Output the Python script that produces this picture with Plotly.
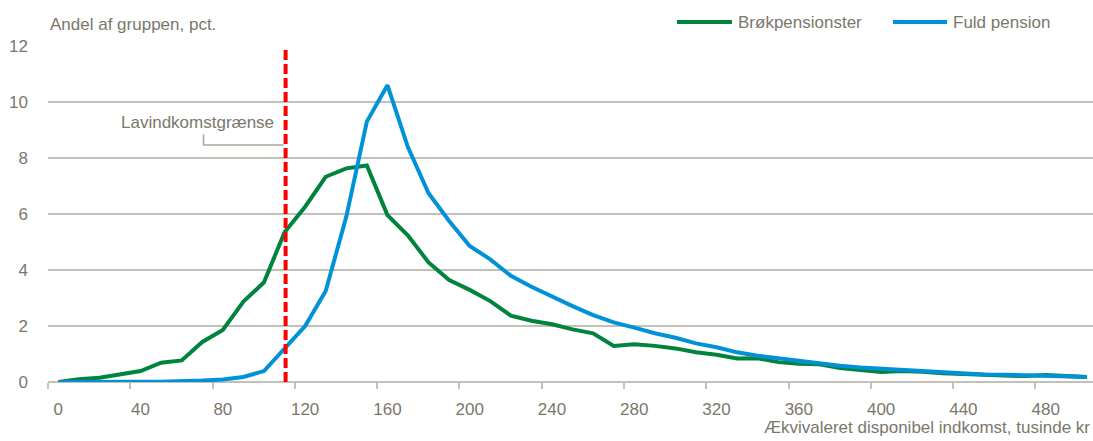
import plotly.graph_objects as go

# Data (tusinde kr, pct.)
income = list(range(0, 510, 10))
brok = [0.0, 0.1, 0.15, 0.27, 0.39, 0.69, 0.77, 1.43, 1.86, 2.87,
        3.56, 5.35, 6.26, 7.33, 7.63, 7.73, 5.96, 5.23, 4.27, 3.64,
        3.29, 2.89, 2.37, 2.19, 2.06, 1.88, 1.74, 1.29, 1.35, 1.29,
        1.2, 1.06, 0.97, 0.84, 0.85, 0.71, 0.65, 0.63, 0.5, 0.43,
        0.36, 0.39, 0.37, 0.31, 0.29, 0.27, 0.26, 0.21, 0.25, 0.21, 0.18]
fuld = [0.0, 0.01, 0.01, 0.01, 0.01, 0.01, 0.02, 0.05, 0.09, 0.18,
        0.39, 1.18, 2.0, 3.25, 5.9, 9.3, 10.6, 8.38, 6.74, 5.75,
        4.86, 4.38, 3.79, 3.4, 3.05, 2.71, 2.39, 2.13, 1.94, 1.74,
        1.58, 1.38, 1.24, 1.06, 0.94, 0.85, 0.75, 0.67, 0.58, 0.52,
        0.48, 0.43, 0.38, 0.33, 0.3, 0.27, 0.26, 0.24, 0.23, 0.2, 0.18]
series_names = ["Brøkpensionster", "Fuld pension"]
x_ticks = list(range(0, 500, 40))
y_ticks = [0, 2, 4, 6, 8, 10, 12]
low_income = 110.5
label_x, label_y = 105.6, 9.26
leader_x0, leader_y0, leader_y1 = 70.6, 8.85, 8.46

FONT = "Liberation Sans, Arial, sans-serif"
FS = 17
TXT = "#7a776b"
GRID = "#c3c1b7"
GREEN = "#00843d"
BLUE = "#0092d8"
colors = [GREEN, BLUE]

fig = go.Figure()
for name, vals, col in zip(series_names, [brok, fuld], colors):
    fig.add_trace(go.Scatter(x=income, y=vals, mode="lines", name=name,
                             line=dict(color=col, width=4), showlegend=False,
                             hoverinfo="skip"))

# legend drawn at the top right (line sample + label)
leg_y = 1.0714
leg_pos = [(0.6019, 0.6545, 0.6584), (0.8086, 0.8603, 0.8641)]
for name, col, (s0, s1, tx) in zip(series_names, colors, leg_pos):
    fig.add_shape(type="line", xref="paper", yref="paper", x0=s0, x1=s1, y0=leg_y, y1=leg_y,
                  line=dict(color=col, width=4))
    fig.add_annotation(xref="paper", yref="paper", x=tx, y=leg_y, text=name, showarrow=False,
                       xanchor="left", yanchor="middle", font=dict(size=FS, color=TXT, family=FONT))

fig.add_shape(type="line", x0=low_income, x1=low_income, y0=0, y1=12,
              line=dict(color="#ff0000", width=4, dash="10px,4px"))
fig.add_shape(type="line", x0=leader_x0, x1=leader_x0, y0=leader_y0, y1=leader_y1,
              line=dict(color="#a9a69b", width=1.5))
fig.add_shape(type="line", x0=leader_x0, x1=low_income - 1, y0=leader_y1, y1=leader_y1,
              line=dict(color="#a9a69b", width=1.5))
fig.add_annotation(x=label_x, y=label_y, text="Lavindkomstgrænse", showarrow=False,
                   xanchor="right", yanchor="middle", font=dict(size=FS, color=TXT, family=FONT))

fig.add_annotation(xref="paper", yref="paper", x=0, y=1, yshift=22, text="Andel af gruppen, pct.",
                   showarrow=False, xanchor="left", yanchor="middle",
                   font=dict(size=FS, color=TXT, family=FONT))
fig.add_annotation(xref="paper", yref="paper", x=1, y=0, yshift=-45, xshift=-1,
                   text="Ækvivaleret disponibel indkomst, tusinde kr", showarrow=False,
                   xanchor="right", yanchor="middle", font=dict(size=FS, color=TXT, family=FONT))

fig.update_layout(
    width=1093, height=441,
    margin=dict(l=48, r=0, t=46, b=59),
    paper_bgcolor="white", plot_bgcolor="white",
    font=dict(family=FONT, size=FS, color=TXT),
    showlegend=False,
    hovermode=False,
    xaxis=dict(range=[-5, 503], tickmode="array", tickvals=x_ticks,
               ticks="", showgrid=False, zeroline=False, showline=False,
               ticklabelstandoff=15, tickfont=dict(size=FS, color=TXT),
               minor=dict(tickmode="linear", tick0=-5, dtick=40, ticks="outside",
                          ticklen=6, tickcolor=GRID, tickwidth=1.5, showgrid=False)),
    yaxis=dict(range=[0, 12], tickmode="array", tickvals=y_ticks,
               showgrid=True, gridcolor=GRID, gridwidth=1.5, zeroline=True,
               zerolinecolor=GRID, zerolinewidth=1.5, ticks="",
               ticklabelstandoff=19, tickfont=dict(size=FS, color=TXT)),
)

# remove the page's default body margin so the figure fills the window exactly
fig.write_html("out.html", config={"displayModeBar": False},
               post_script="document.body.style.margin='0';")
